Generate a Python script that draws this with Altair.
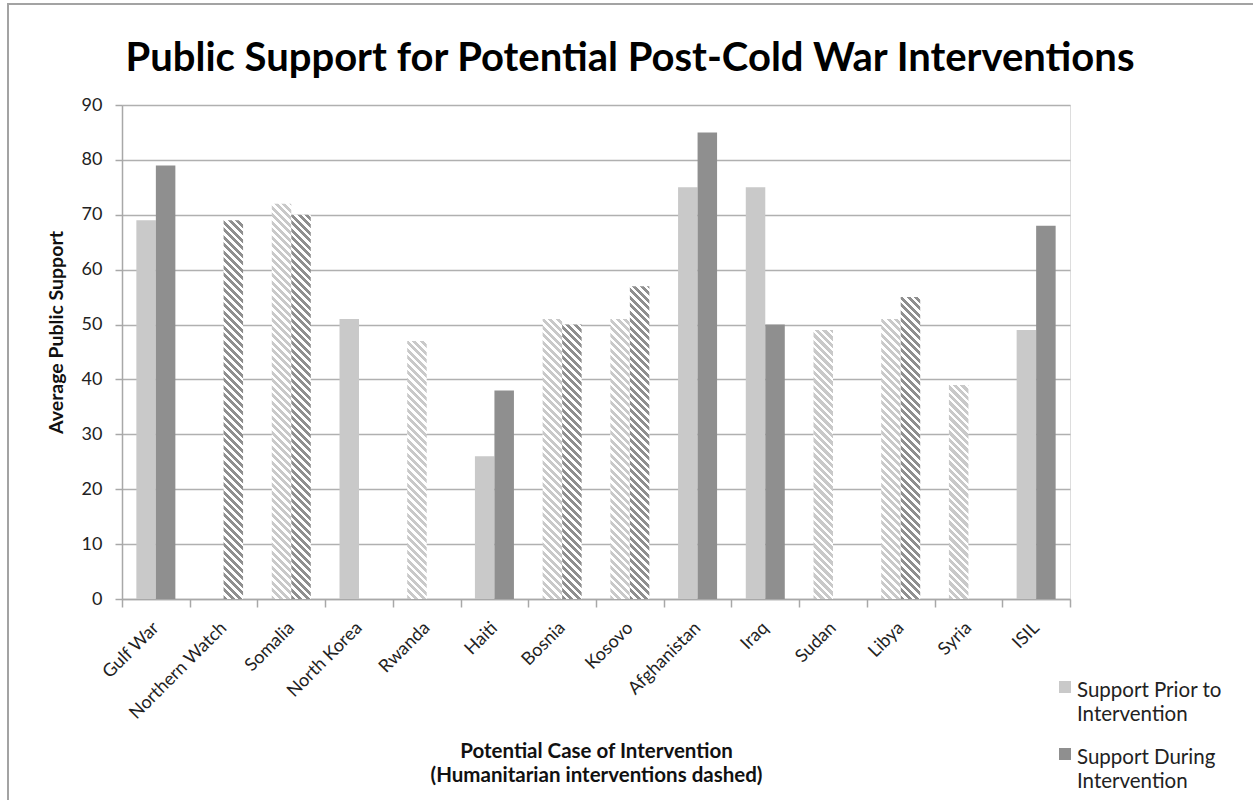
import altair as alt
import pandas as pd

# ---- data -------------------------------------------------------------
cases = ["Gulf War", "Northern Watch", "Somalia", "North Korea", "Rwanda", "Haiti",
         "Bosnia", "Kosovo", "Afghanistan", "Iraq", "Sudan", "Libya", "Syria", "ISIL"]
prior = [69, None, 72, 51, 47, 26, 51, 51, 75, 75, 49, 51, 39, 49]
during = [79, 69, 70, None, None, 38, 50, 57, 85, 50, None, 55, None, 68]
humanitarian = ["Northern Watch", "Somalia", "Rwanda", "Bosnia", "Kosovo",
                "Sudan", "Libya", "Syria"]
series = ["Support Prior to Intervention", "Support During Intervention"]
legend_lines = [["Support Prior to", "Intervention"], ["Support During", "Intervention"]]
colors = ["#c9c9c9", "#8f8f8f"]
y_ticks = list(range(0, 91, 10))
title_text = "Public Support for Potential Post-Cold War Interventions"

rows = []
for case, p, d in zip(cases, prior, during):
    for s, v in zip(series, (p, d)):
        if v is not None:
            rows.append({"case": case, "series": s, "value": v,
                         "hatched": case in humanitarian})
df = pd.DataFrame(rows)

# ---- geometry ---------------------------------------------------------
W, H = 948, 494
LEFT, TOP = 122, 105
Y_MAX = 90
FONT = "Lato"
OUTER = 0.736  # outer padding of the bar pair inside each category
band = W / len(cases)
bar_w = band / (2 + 2 * OUTER)


def stripes(color, value, period=7.5, ink=0.55):
    """Diagonal hatch as a hard-stop linear gradient sized to one bar."""
    w = bar_w
    h = value / Y_MAX * H
    s = (w + h) / (w * w + h * h)
    n = (w + h) / period
    stops = []
    k = 0
    while k / n < 1:
        a = k / n
        b = min((k + ink) / n, 1)
        c = min((k + 1) / n, 1)
        stops += [{"offset": a, "color": color}, {"offset": b, "color": color},
                  {"offset": b, "color": "#ffffff"}, {"offset": c, "color": "#ffffff"}]
        k += 1
    return {"gradient": "linear", "x1": 0, "y1": 1, "x2": s * w, "y2": 1 - s * h,
            "stops": stops}


x_axis = alt.Axis(
    title=["Potential Case of Intervention", "(Humanitarian interventions dashed)"],
    titleFont=FONT, titleFontSize=20.5, titleFontWeight="bold", titleColor="#111",
    titleBaseline="alphabetic", titleY=158, titleLineHeight=24.5,
    labelAngle=315, labelAlign="right", labelBaseline="middle",
    labelFont=FONT, labelFontSize=18, labelColor="#222", labelPadding=18,
    tickBand="extent", tickSize=8, tickColor="#a8a8a8", tickWidth=1.5,
    domainColor="#a8a8a8", domainWidth=1.5, grid=False,
)
y_axis = alt.Axis(
    title="Average Public Support", values=y_ticks,
    titleFont=FONT, titleFontSize=19.5, titleFontWeight="bold", titleColor="#111",
    titleAngle=270, titleX=-66, titleY=227, titleAlign="center", titleBaseline="middle",
    labelFont=FONT, labelFontSize=18, labelColor="#222", labelPadding=13,
    tickSize=7, tickColor="#a8a8a8", tickWidth=1.5,
    domainColor="#a8a8a8", domainWidth=1.5,
    gridColor="#b0b0b0", gridWidth=1.5,
)

base = alt.Chart(df).encode(
    x=alt.X("case:N", sort=cases,
            scale=alt.Scale(domain=cases, paddingInner=0, paddingOuter=0),
            axis=x_axis),
    xOffset=alt.XOffset("series:N",
                        scale=alt.Scale(domain=series, paddingInner=0, paddingOuter=OUTER)),
    y=alt.Y("value:Q", scale=alt.Scale(domain=[0, Y_MAX], nice=False), axis=y_axis),
)

solid = base.mark_bar().encode(
    color=alt.Color("series:N", scale=alt.Scale(domain=series, range=colors), legend=None)
).transform_filter("!datum.hatched")

hatched_layers = []
for r in df[df["hatched"]].itertuples():
    col = colors[series.index(r.series)]
    hatched_layers.append(
        base.mark_bar(fill=stripes(col, r.value)).transform_filter(
            f"datum.case == '{r.case}' && datum.series == '{r.series}'"
        )
    )

one = pd.DataFrame({"k": [0]})

# frame around the whole figure
frame = alt.Chart(one).mark_rect(filled=False, stroke="#a3a3a3", strokeWidth=2).encode(
    x=alt.value(8 - LEFT), x2=alt.value(1300 - LEFT),
    y=alt.value(4 - TOP), y2=alt.value(900 - TOP),
)

# chart heading
heading = alt.Chart(one).mark_text(
    align="center", baseline="alphabetic", font=FONT, fontSize=40,
    fontWeight="bold", color="#000",
).encode(x=alt.value(630 - LEFT), y=alt.value(71 - TOP), text=alt.value(title_text))

# legend at lower right
legend_layers = []
for i, (s, col, lines) in enumerate(zip(series, colors, legend_lines)):
    y0 = 681 + i * 67 - TOP
    legend_layers.append(
        alt.Chart(one).mark_rect(fill=col).encode(
            x=alt.value(1059 - LEFT), x2=alt.value(1071 - LEFT),
            y=alt.value(y0), y2=alt.value(y0 + 12),
        )
    )
    legend_layers.append(
        alt.Chart(one).mark_text(
            align="left", baseline="alphabetic", font=FONT, fontSize=20.5,
            color="#222", lineHeight=24,
        ).encode(
            x=alt.value(1077 - LEFT), y=alt.value(y0 + 16),
            text=alt.value(lines),
        )
    )

chart = alt.layer(frame, heading, solid, *hatched_layers, *legend_layers).properties(
    width=W, height=H,
    padding={"left": LEFT, "top": TOP, "right": 1253 - LEFT - W, "bottom": 800 - TOP - H},
    autosize=alt.AutoSizeParams(type="none"),
).configure_view(stroke=None).configure(background="white")

chart.save("out.html", embed_options={"renderer": "svg", "actions": False})
